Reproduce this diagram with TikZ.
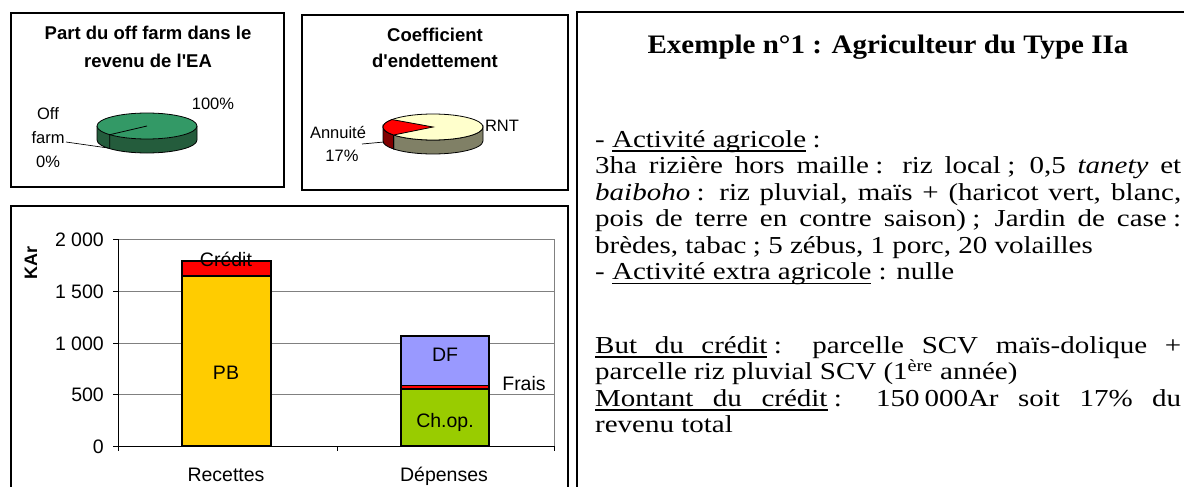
\documentclass[tikz,border=0pt]{standalone}
\usepackage{graphicx}
\usepackage{fontspec}
\setmainfont{Liberation Serif}
\newfontfamily\arialf{Liberation Sans}
\newcommand{\ulw}[1]{\setbox0\hbox{#1}\rlap{\vrule height -4pt depth 5.6pt width\wd0}\box0\relax}
\newcommand{\ulsp}{\leaders\hrule height -4pt depth 5.6pt\hskip\fontdimen2\font plus\fontdimen3\font minus\fontdimen4\font\relax}
\newcommand{\sq}[1]{\scalebox{1}[0.84]{#1}}
\newcommand{\jline}[1]{\sq{\makebox[586pt][s]{#1}}}
\newcommand{\fsp}{\kern0.22em}
\definecolor{pietopA}{RGB}{51,153,102}
\definecolor{piesideA}{RGB}{36,92,60}
\definecolor{pietopB}{RGB}{255,255,204}
\definecolor{piesideB}{RGB}{128,128,102}
\definecolor{redside}{RGB}{128,0,0}
\definecolor{pbcol}{RGB}{255,204,0}
\definecolor{chopcol}{RGB}{153,204,0}
\definecolor{dfcol}{RGB}{153,153,255}
\tikzset{
  box/.style={draw=black, line width=1.3pt},
  gridln/.style={draw={rgb,255:red,128;green,128;blue,128}, line width=0.9pt},
  axisln/.style={draw=black, line width=1pt},
  barbox/.style={draw=black, line width=1.2pt},
  charttxt/.style={font=\arialf\fontsize{19.5}{23}\selectfont, inner sep=0pt, anchor=base},
  pietitle/.style={font=\arialf\bfseries\fontsize{18.5}{26}\selectfont, inner sep=0pt, anchor=base},
  pielbl/.style={font=\arialf\fontsize{16.5}{24}\selectfont, inner sep=0pt, anchor=base},
  body/.style={font=\fontsize{29}{33.5}\selectfont, inner sep=0pt, anchor=base west},
  leader/.style={draw=black, line width=0.7pt},
  pieline/.style={draw=black, line width=0.8pt},
}
\begin{document}
\begin{tikzpicture}[x=1pt, y=-1pt]
\useasboundingbox (0,0) rectangle (1184,487);
\fill[white] (0,0) rectangle (1184,487);

% ---------- frames ----------
\draw[box] (11,13) rectangle (284,187);
\draw[box] (302,15) rectangle (568,190);
\draw[box] (11,206) rectangle (568,500);
\draw[box] (577,12) rectangle (1200,500);

% ---------- pie 1 ----------
\node[pietitle] (t1a) at (148,40) {Part du off farm dans le};
\node[pietitle] (t1b) at (148,67) {revenu de l'EA};
\begin{scope}[shift={(147,126)}, y=1pt]
  \fill[piesideA] (-50,0) -- (-50,-14) arc[start angle=180, end angle=360, x radius=50, y radius=13] -- (50,0) arc[start angle=0, end angle=-180, x radius=50, y radius=13] -- cycle;
  \draw[pieline] (-50,0) -- (-50,-14) arc[start angle=180, end angle=360, x radius=50, y radius=13] -- (50,0);
  \filldraw[fill=pietopA, pieline] (0,0) ellipse[x radius=50, y radius=13];
  \draw[pieline] (0,0) -- (222:50 and 13) -- ++(0,-14);
  \coordinate (offpt) at (-39,-22);
\end{scope}
\node[pielbl] (p100) at (213,110) {100\%};
\node[pielbl, align=center, anchor=north] (offl) at (48,107) {Off\\farm\\0\%};
\coordinate (offstart) at (66,142);
\draw[leader] (offstart) -- (offpt);

% ---------- pie 2 ----------
\node[pietitle] (t2a) at (435,42) {Coefficient};
\node[pietitle] (t2b) at (435,68) {d'endettement};
\begin{scope}[shift={(433,127)}, y=1pt]
  \filldraw[fill=piesideB, pieline] (218:50 and 13) -- ++(0,-14) arc[start angle=218, end angle=360, x radius=50, y radius=13] -- (0:50 and 13) arc[start angle=360, end angle=218, x radius=50, y radius=13] -- cycle;
  \filldraw[fill=redside, pieline] (180:50 and 13) -- ++(0,-14) arc[start angle=180, end angle=218, x radius=50, y radius=13] -- (218:50 and 13) arc[start angle=218, end angle=180, x radius=50, y radius=13] -- cycle;
  \filldraw[fill=pietopB, pieline] (0,0) ellipse[x radius=50, y radius=13];
  \filldraw[fill=red, pieline] (0,0) -- (145:50 and 13) arc[start angle=145, end angle=218, x radius=50, y radius=13] -- cycle;
  \coordinate (annpt) at (-49,-15);
\end{scope}
\node[pielbl] (rnt) at (502,131) {RNT};
\node[pielbl] (ann) at (338,139) {Annuité};
\node[pielbl] (ann17) at (342,161) {17\%};
\coordinate (annstart) at (362,144);
\draw[leader] (annstart) -- (annpt);

% ---------- bar chart ----------
\foreach \yy in {239,291,343,394}{\draw[gridln] (118,\yy) -- (554,\yy);}
\draw[gridln] (554,239) -- (554,446);
\foreach \yy in {239,291,343,394,446}{\draw[axisln] (113,\yy) -- (118,\yy);}
\draw[axisln] (118,239) -- (118,451);
\draw[axisln] (118,446) -- (554,446);
\draw[axisln] (337,446) -- (337,451);
\draw[axisln] (554,446) -- (554,451);

\node[charttxt, anchor=base east] (y2000) at (104,246) {2 000};
\node[charttxt, anchor=base east] (y1500) at (104,298) {1 500};
\node[charttxt, anchor=base east] (y1000) at (104,350) {1 000};
\node[charttxt, anchor=base east] (y500) at (104,401) {500};
\node[charttxt, anchor=base east] (y0) at (104,453) {0};
\node[font=\arialf\bfseries\fontsize{18}{20}\selectfont, inner sep=0pt, rotate=90] (kar) at (31,263) {KAr};

% Recettes
\filldraw[fill=pbcol, barbox] (182,446) rectangle (271,276);
\filldraw[fill=red, barbox] (182,276) rectangle (271,261);
% Dépenses
\filldraw[fill=chopcol, barbox] (401,446) rectangle (489,389);
\filldraw[fill=red, barbox] (401,389) rectangle (489,385.5);
\filldraw[fill=dfcol, barbox] (401,385.5) rectangle (489,336);

\node[charttxt] (credit) at (226,266) {Crédit};
\node[charttxt] (pb) at (226,379) {PB};
\node[charttxt] (df) at (445,361) {DF};
\node[charttxt] (chop) at (445,427) {Ch.op.};
\node[charttxt] (frais) at (524,390) {Frais};
\node[charttxt] (rec) at (226,481) {Recettes};
\node[charttxt] (dep) at (444,481) {Dépenses};

% ---------- text ----------
\node[font=\bfseries\fontsize{29}{33}\selectfont, inner sep=0pt, anchor=base] (title) at (888,54) {\scalebox{1}[0.92]{Exemple n°1 : Agriculteur du Type IIa}};
\node[body] (l1) at (595,147) {\sq{- \ulw{Activité}\ulsp\ulw{agricole}\fsp:}};
\node[body] (l2) at (595,173.5) {\jline{3ha rizière hors maille\fsp: riz local\fsp; 0,5 \textit{tanety} et}};
\node[body] (l3) at (595,200) {\jline{\textit{baiboho}\fsp: riz pluvial, maïs + (haricot vert, blanc,}};
\node[body] (l4) at (595,226.5) {\jline{pois de terre en contre saison)\fsp; Jardin de case\fsp:}};
\node[body] (l5) at (595,253) {\sq{brèdes, tabac\fsp; 5 zébus, 1 porc, 20 volailles}};
\node[body] (l6) at (595,279.5) {\sq{- \ulw{Activité}\ulsp\ulw{extra}\ulsp\ulw{agricole} : nulle}};
\node[body] (l7) at (595,353) {\jline{\ulw{But}\ulsp\ulw{du}\ulsp\ulw{crédit}\fsp: parcelle SCV maïs-dolique +}};
\node[body] (l8) at (595,379.5) {\sq{parcelle riz pluvial SCV (1\textsuperscript{ère} année)}};
\node[body] (l9) at (595,406) {\jline{\ulw{Montant}\ulsp\ulw{du}\ulsp\ulw{crédit}\fsp: 150\,000Ar soit 17\% du}};
\node[body] (l10) at (595,432.5) {\sq{revenu total}};
\end{tikzpicture}
\end{document}
